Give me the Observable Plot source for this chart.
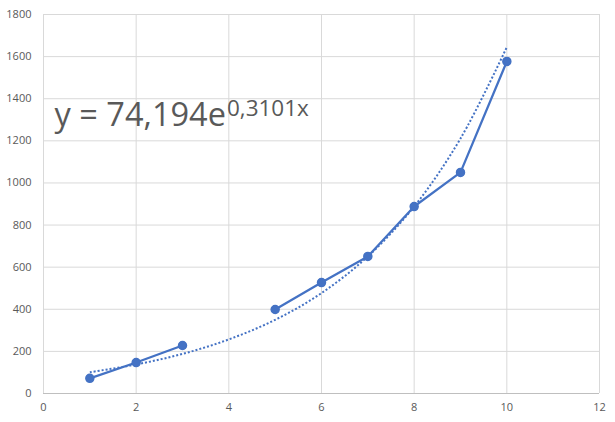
<!DOCTYPE html>
<html>
<head>
<meta charset="utf-8">
<script src="https://cdn.jsdelivr.net/npm/d3@7"></script>
<script src="https://cdn.jsdelivr.net/npm/@observablehq/plot@0.6"></script>
<style>
  html, body { margin: 0; padding: 0; background: #fff; }
  #chart svg { display: block; }
</style>
</head>
<body>
<div id="chart"></div>
<script>
// Observed series (x = 4 missing, breaks the line)
const xValues = [1, 2, 3, 4, 5, 6, 7, 8, 9, 10];
const yValues = [72, 147, 228, null, 399, 527, 651, 888, 1050, 1577];

// Exponential trendline values
const trendX = [1, 2, 3, 4, 5, 6, 7, 8, 9, 10];
const trendY = [101, 138, 188, 257, 350, 477, 651, 888, 1211, 1645];

// Axis ticks
const xTicks = [0, 2, 4, 6, 8, 10, 12];
const yTicks = [0, 200, 400, 600, 800, 1000, 1200, 1400, 1600, 1800];

// Trendline equation label
const eqMain = "y = 74,194e";
const eqSup = "0,3101x";
const eqPos = [{x: 0.24, y: 1272}];

const color = "#4472C4";
const series = xValues.map((x, i) => ({x, y: yValues[i]}));
const trend = trendX.map((x, i) => ({x, y: trendY[i]}));

const chart = Plot.plot({
  width: 615,
  height: 422,
  marginLeft: 43,
  marginRight: 16,
  marginTop: 14,
  marginBottom: 29,
  style: {fontFamily: "'Open Sans', sans-serif", fontSize: "11px", color: "#595959", background: "#fff"},
  x: {domain: [0, 12], ticks: xTicks, tickSize: 0, label: null},
  y: {domain: [0, 1800], ticks: yTicks, tickSize: 0, label: null},
  marks: [
    Plot.gridX(xTicks, {stroke: "#d9d9d9", strokeOpacity: 1, strokeWidth: 1}),
    Plot.gridY(yTicks, {stroke: "#d9d9d9", strokeOpacity: 1, strokeWidth: 1}),
    Plot.ruleY([0], {stroke: "#bfbfbf", strokeWidth: 1}),
    Plot.axisX({ticks: xTicks, tickSize: 0, tickPadding: 10, tickFormat: d3.format("d"), fill: "#595959", fontSize: 11}),
    Plot.axisY({ticks: yTicks, tickSize: 0, tickPadding: 12, tickFormat: d3.format("d"), fill: "#595959", fontSize: 11}),
    Plot.line(trend, {x: "x", y: "y", curve: "catmull-rom", stroke: color, strokeWidth: 2, strokeDasharray: "2,2", strokeLinecap: "butt"}),
    Plot.line(series, {x: "x", y: "y", stroke: color, strokeWidth: 2.25}),
    Plot.dot(series, {x: "x", y: "y", r: 4, fill: color, stroke: color}),
    Plot.text(eqPos, {x: "x", y: "y", text: () => eqMain, textAnchor: "start", lineAnchor: "bottom", fontSize: 32.5, fill: "#595959", className: "eq"})
  ]
});

// Add the superscript exponent to the equation label
const eqText = chart.querySelector(".eq text");
if (eqText) {
  const sup = document.createElementNS("http://www.w3.org/2000/svg", "tspan");
  sup.setAttribute("font-size", "22.5");
  sup.setAttribute("dy", "-0.42em");
  sup.setAttribute("dx", "1");
  sup.textContent = eqSup;
  eqText.appendChild(sup);
}

document.getElementById("chart").appendChild(chart);
</script>
</body>
</html>
